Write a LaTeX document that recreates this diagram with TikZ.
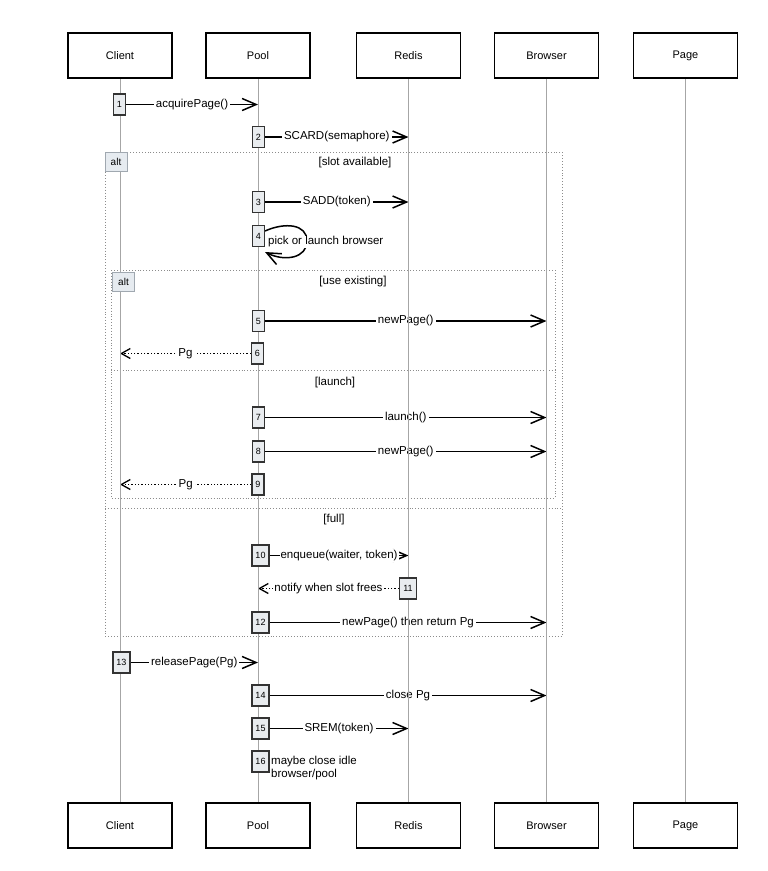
\documentclass[tikz,border=0pt]{standalone}
\usepackage{fontspec}
\setmainfont{Liberation Sans}
\usetikzlibrary{arrows.meta}
\pgfdeclarelayer{bg}\pgfdeclarelayer{mid}
\pgfsetlayers{bg,mid,main}
\definecolor{actfill}{HTML}{E9ECEF}
\definecolor{tagfill}{HTML}{E6EBF0}
\definecolor{tagdraw}{HTML}{A0A8B0}
\tikzset{
 part/.style={draw=black, line width=1.3pt, fill=white, minimum width=104pt, minimum height=45pt, font=\fontsize{11}{13}\selectfont, inner sep=0pt},
 life/.style={draw=black!35, line width=0.8pt},
 act/.style={draw=black!80, line width=1.1pt, fill=actfill, minimum width=12pt, minimum height=21pt, inner sep=0pt, font=\fontsize{9}{10}\selectfont},
 actw/.style={act, minimum width=17pt},
 msg/.style={draw=black, line width=1.5pt, -{Straight Barb[length=14pt,width=12pt]}},
 ret/.style={draw=black, line width=1.3pt, dotted, -{Straight Barb[length=9pt,width=10pt]}},
 lbl/.style={fill=white, inner sep=2pt, font=\fontsize{11.5}{13}\selectfont},
 framebox/.style={draw=black!45, line width=0.9pt, dotted},
 tag/.style={draw=tagdraw, fill=tagfill, line width=0.8pt, minimum width=22pt, minimum height=19pt, inner sep=0pt, font=\fontsize{10}{11}\selectfont},
 guard/.style={font=\fontsize{11.5}{13}\selectfont, inner sep=0pt},
}
\begin{document}
\begin{tikzpicture}[x=1pt,y=-1pt]
\useasboundingbox (0,0) rectangle (768,871);
% participants
\node[part] (cT) at (120,55.5) {Client};
\node[part] (pT) at (258,55.5) {Pool};
\node[part] (rT) at (408.5,55.5) {Redis};
\node[part] (bT) at (546.5,55.5) {Browser};
\node[part] (gT) at (685.5,55.5) {Page};
\node[part] (cB) at (120,825.5) {Client};
\node[part] (pB) at (258,825.5) {Pool};
\node[part] (rB) at (408.5,825.5) {Redis};
\node[part] (bB) at (546.5,825.5) {Browser};
\node[part] (gB) at (685.5,825.5) {Page};
\begin{pgfonlayer}{mid}
\draw[life] (cT) -- (cB);
\draw[life] (pT) -- (pB);
\draw[life] (rT) -- (rB);
\draw[life] (bT) -- (bB);
\draw[life] (gT) -- (gB);
\end{pgfonlayer}
% frames
\node[tag] (alt1) at (116,162) {alt};
\node[tag] (alt2) at (123.5,281.5) {alt};
\begin{pgfonlayer}{bg}
\draw[framebox] (105,152) rectangle (562,636);
\draw[framebox] (105,508) -- (562,508);
\draw[framebox] (111,270) rectangle (555,498);
\draw[framebox] (111,370) -- (555,370);
\end{pgfonlayer}
\node[guard] (g1) at (355,163) {[slot available]};
\node[guard] (g2) at (353,282) {[use existing]};
\node[guard] (g3) at (335,383) {[launch]};
\node[guard] (g4) at (334,520) {[full]};
% activations
\node[act] (a1) at (119.5,104.5) {1};
\node[act] (a2) at (258.5,137) {2};
\node[act] (a3) at (258.5,202) {3};
\node[act] (a4) at (258.5,236) {4};
\node[act] (a5) at (258.5,321) {5};
\node[act] (a6) at (257.5,353.5) {6};
\node[act] (a7) at (258.5,417.5) {7};
\node[act] (a8) at (258.5,451.5) {8};
\node[act] (a9) at (258,484.5) {9};
\node[actw] (a10) at (260.5,555.5) {10};
\node[actw] (a11) at (408,588.5) {11};
\node[actw] (a12) at (260.5,622.5) {12};
\node[actw] (a13) at (121.5,662.5) {13};
\node[actw] (a14) at (260.5,695.5) {14};
\node[actw] (a15) at (260.5,728.5) {15};
\node[actw] (a16) at (260.5,761.5) {16};
% messages
\begin{pgfonlayer}{bg}
\draw[msg] (a1) -- (a1 -| pT) node[lbl,midway] (m1) {acquirePage()};
\draw[msg] (a2) -- (a2 -| rT) node[lbl,midway] (m2) {SCARD(semaphore)};
\draw[msg] (a3) -- (a3 -| rT) node[lbl,midway] (m3) {SADD(token)};
\draw[msg] (a4.east) ++(0,-5) .. controls (285,222) and (307,224) .. (307,241) .. controls (307,258) and (285,262) .. (265,252);
\node[lbl, anchor=west, inner sep=1pt] (m4) at (267,242) {pick or launch browser};
\draw[msg] (a5) -- (a5 -| bT) node[lbl,midway] (m5) {newPage()};
\draw[ret] (a6) -- (a6 -| cT) node[lbl,midway] (m6) {Pg};
\draw[msg] (a7) -- (a7 -| bT) node[lbl,midway] (m7) {launch()};
\draw[msg] (a8) -- (a8 -| bT) node[lbl,midway] (m8) {newPage()};
\draw[ret] (a9) -- (a9 -| cT) node[lbl,midway] (m9) {Pg};
\draw[msg] (a10) -- (a10 -| rT) node[lbl,midway,inner sep=1pt] (m10) {enqueue(waiter, token)};
\draw[ret] (a11) -- (a11 -| pT) node[lbl,midway,inner sep=1pt] (m11) {notify when slot frees};
\draw[msg] (a12) -- (a12 -| bT) node[lbl,midway] (m12) {newPage() then return Pg};
\draw[msg] (a13) -- (a13 -| pT) node[lbl,midway] (m13) {releasePage(Pg)};
\draw[msg] (a14) -- (a14 -| bT) node[lbl,midway] (m14) {close Pg};
\draw[msg] (a15) -- (a15 -| rT) node[lbl,midway] (m15) {SREM(token)};
\node[lbl, anchor=west, align=left, inner sep=1pt, font=\fontsize{11.5}{13}\selectfont] (m16) at (270,768) {maybe close idle\\browser/pool};
\end{pgfonlayer}
\end{tikzpicture}
\end{document}
